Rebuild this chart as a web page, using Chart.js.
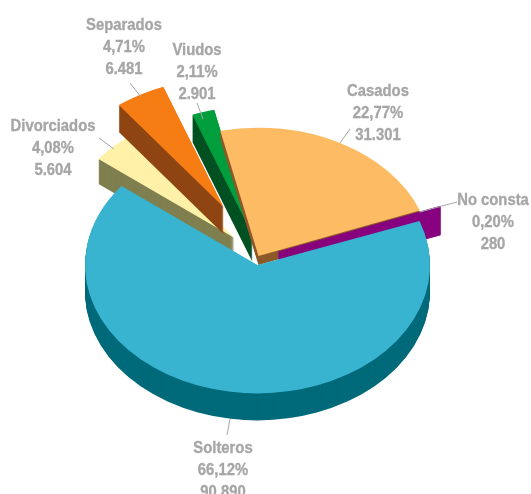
<!DOCTYPE html>
<html>
<head>
<meta charset="utf-8">
<style>html,body{margin:0;padding:0;background:#fff;overflow:hidden}canvas{display:block}</style>
<script src="https://cdn.jsdelivr.net/npm/chart.js@4/dist/chart.umd.min.js"></script>
</head>
<body>
<canvas id="c" width="531" height="494"></canvas>
<script>
// ---- data ----
const categories = ['Casados', 'No consta', 'Solteros', 'Divorciados', 'Separados', 'Viudos'];
const values = [31301, 280, 90890, 5604, 6481, 2901];
const percents = ['22,77%', '0,20%', '66,12%', '4,08%', '4,71%', '2,11%'];
const valueLabels = ['31.301', '280', '90.890', '5.604', '6.481', '2.901'];

// ---- styling ----
const topColors = ['#FDBB63', '#880080', '#38B4D0', '#FFF2A8', '#F57D14', '#009E3D'];
const wallColors = ['#8C5A2B', '#880080', '#006A7A', '#7F7F50', '#8F4512', '#005023'];
const borderWidths = [0, 1, 0, 0, 0, 0];
const explodeX = [1, 21, 0, -23, -34, -5];
const explodeY = [-9, -13, 0, -27, -58, -30];
const wallDepth = [9, 27, 27, 25, 27, 27];
const paintOrder = [3, 4, 5, 0, 1, 2];
const labelX = [378, 493, 223, 53, 124, 197];
const labelY = [91, 200, 448, 126, 25, 50];
const leaderLines = [[350,129,340,143],[457,202,420,212],[230,419,227,435],[99,138,114,149],[130,83,141,97],[197,103,203,119]];
const TILT = 0.744, RADIUS = 172.5, START_ANGLE = -12.8;
const TEXT = '#A6A6A6', FONT = 'bold 17px "Liberation Sans",Arial,sans-serif', LINE = 22, TEXT_SQUEEZE = 0.872;

const pie3d = {
  id: 'pie3d',
  beforeDatasetDraw() { return false; },
  beforeDatasetsDraw(chart) {
    const ctx = chart.ctx, arcs = chart.getDatasetMeta(0).data;
    const paint = (arc, color, dx, dy) => {
      const p = Object.create(arc);
      p.options = Object.assign({}, arc.options, {backgroundColor: color, borderColor: color});
      ctx.save();
      ctx.translate(arc.x + dx, arc.y + dy);
      ctx.scale(1, TILT);
      ctx.translate(-arc.x, -arc.y);
      p.draw(ctx);
      ctx.restore();
    };
    paintOrder.forEach(i => {
      for (let d = wallDepth[i]; d >= 1; d--) paint(arcs[i], wallColors[i], explodeX[i], explodeY[i] + d);
      paint(arcs[i], topColors[i], explodeX[i], explodeY[i]);
    });
  },
  afterDatasetsDraw(chart) {
    const ctx = chart.ctx;
    ctx.save();
    ctx.strokeStyle = TEXT; ctx.lineWidth = 1;
    leaderLines.forEach(l => { ctx.beginPath(); ctx.moveTo(l[0], l[1]); ctx.lineTo(l[2], l[3]); ctx.stroke(); });
    ctx.fillStyle = TEXT; ctx.font = FONT; ctx.textAlign = 'center'; ctx.textBaseline = 'middle';
    ctx.lineWidth = 0.35;
    categories.forEach((name, i) => {
      ctx.save();
      ctx.translate(labelX[i], labelY[i]);
      ctx.scale(TEXT_SQUEEZE, 1);
      [name, percents[i], valueLabels[i]].forEach((t, k) => {
        ctx.fillText(t, 0, LINE * k);
        ctx.strokeText(t, 0, LINE * k);
      });
      ctx.restore();
    });
    ctx.restore();
  }
};

new Chart(document.getElementById('c'), {
  type: 'pie',
  data: { labels: categories, datasets: [{ data: values, backgroundColor: topColors, borderColor: wallColors, borderWidth: borderWidths, radius: RADIUS }] },
  options: {
    responsive: false, animation: false, rotation: START_ANGLE,
    layout: { padding: { left: 0, right: 16, top: 36, bottom: 0 } },
    plugins: { legend: { display: false }, tooltip: { enabled: false } }
  },
  plugins: [pie3d]
});
</script>
</body>
</html>
